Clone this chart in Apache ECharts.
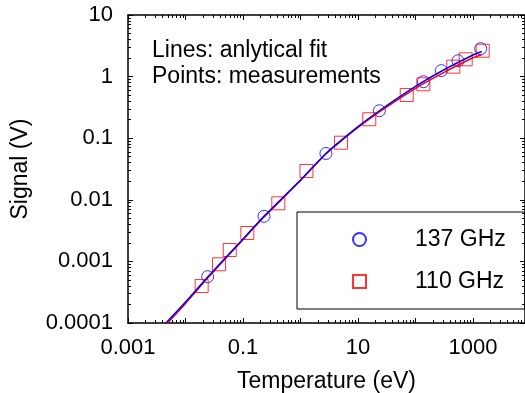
<!DOCTYPE html>
<html>
<head>
<meta charset="utf-8">
<script src="https://cdn.jsdelivr.net/npm/echarts@6/dist/echarts.min.js"></script>
<style>
  html, body { margin: 0; padding: 0; background: #fff; }
  #chart { width: 525px; height: 393px; }
</style>
</head>
<body>
<div id="chart"></div>
<script>
// analytical fit, sampled along the curves
const fitTemp = [0.00458, 0.0102, 0.0243, 0.1, 0.232, 1, 2.77, 10, 23.5, 100, 281, 1000, 1416]
const fit137 = [1e-4, 2.23e-4, 5.58e-4, 2.32e-3, 5.4e-3, 0.0209, 0.0565, 0.154, 0.279, 0.693, 1.22, 2.24, 2.55]
const fit110 = [0.94e-4, 2.12e-4, 5.36e-4, 2.25e-3, 5.24e-3, 0.0205, 0.0554, 0.149, 0.268, 0.645, 1.11, 2.02, 2.27]

// measurements
const meas137Temp = [0.0243, 0.232, 2.77, 23.5, 137, 281, 548, 1360]
const meas137 = [0.000565, 0.0054, 0.0565, 0.279, 0.826, 1.25, 1.81, 2.84]
const meas110Temp = [0.0191, 0.0383, 0.0588, 0.119, 0.411, 1.27, 5.06, 15.7, 70.3, 137, 454, 746, 1475]
const meas110 = [0.000399, 0.000897, 0.00153, 0.00289, 0.00877, 0.0294, 0.0845, 0.203, 0.503, 0.75, 1.45, 1.91, 2.63]

// axis ticks
const xTickValues = [0.001, 0.1, 10, 1000]
const xTickLabels = ['0.001', '0.1', '10', '1000']
const yTickValues = [0.0001, 0.001, 0.01, 0.1, 1, 10]
const yTickLabels = ['0.0001', '0.001', '0.01', '0.1', '1', '10']

const lg = Math.log10
const pairs = (xs, ys) => xs.map((x, i) => [lg(x), lg(ys[i])])

const X_MIN = -3, X_MAX = 3.904, Y_MIN = -4, Y_MAX = 1
const FONT = 'Liberation Sans, Arial, sans-serif'

// decade ticks and 2..9 minor ticks (log space)
const decades = (a, b) => { const r = []; for (let d = a; d <= b; d++) r.push(d); return r }
const minors = (a, b) => {
  const r = []
  for (let d = a; d <= b; d++) for (let k = 2; k <= 9; k++) r.push(d + lg(k))
  return r
}
const xMajor = decades(-3, 3), xMinor = minors(-3, 3).filter(v => v < X_MAX)
const yMajor = decades(-4, 1), yMinor = minors(-4, 0)

const labelOf = (vals, labels) => v => {
  const i = vals.findIndex(t => Math.abs(lg(t) - v) < 1e-6)
  return i < 0 ? '' : labels[i]
}

const tickAxis = (kind, pos, ticks, len, line) => ({
  type: 'value',
  position: pos,
  min: kind === 'x' ? X_MIN : Y_MIN,
  max: kind === 'x' ? X_MAX : Y_MAX,
  axisLine: { show: line, onZero: false, lineStyle: { color: '#000', width: 1.5 } },
  axisTick: { show: true, inside: true, length: len, customValues: ticks, lineStyle: { color: '#000', width: 1 } },
  axisLabel: { show: false },
  splitLine: { show: false }
})

const chart = echarts.init(document.getElementById('chart'))
chart.setOption({
  animation: false,
  grid: { left: 128, top: 15, width: 397, height: 308, outerBoundsMode: 'none' },
  xAxis: [
    {
      type: 'value',
      position: 'bottom',
      min: X_MIN,
      max: X_MAX,
      name: 'Temperature (eV)',
      nameLocation: 'middle',
      nameGap: 47,
      nameTextStyle: { fontFamily: FONT, fontSize: 23, color: '#000' },
      axisLine: { onZero: false, lineStyle: { color: '#000', width: 1.5 } },
      axisTick: { inside: true, length: 5, customValues: xMajor, lineStyle: { color: '#000' } },
      axisLabel: {
        customValues: xTickValues.map(lg),
        formatter: labelOf(xTickValues, xTickLabels),
        margin: 14,
        fontFamily: FONT,
        fontSize: 22,
        color: '#000'
      },
      splitLine: { show: false }
    },
    tickAxis('x', 'bottom', xMinor, 3, false),
    tickAxis('x', 'top', xMajor, 5, true),
    tickAxis('x', 'top', xMinor, 3, false)
  ],
  yAxis: [
    {
      type: 'value',
      position: 'left',
      min: Y_MIN,
      max: Y_MAX,
      name: 'Signal (V)',
      nameLocation: 'middle',
      nameGap: 96,
      nameTextStyle: { fontFamily: FONT, fontSize: 23, color: '#000' },
      axisLine: { onZero: false, lineStyle: { color: '#000', width: 1.5 } },
      axisTick: { inside: true, length: 5, customValues: yMajor, lineStyle: { color: '#000' } },
      axisLabel: {
        customValues: yTickValues.map(lg),
        formatter: labelOf(yTickValues, yTickLabels),
        margin: 15,
        fontFamily: FONT,
        fontSize: 22,
        color: '#000'
      },
      splitLine: { show: false }
    },
    tickAxis('y', 'left', yMinor, 3, false),
    tickAxis('y', 'right', yMajor, 5, true),
    tickAxis('y', 'right', yMinor, 3, false)
  ],
  legend: {
    orient: 'vertical',
    left: 297,
    top: 212,
    padding: [16, 19, 16, 55],
    borderColor: '#000',
    borderWidth: 1,
    itemWidth: 13,
    itemHeight: 13,
    itemGap: 19,
    data: ['137 GHz', '110 GHz'],
    textStyle: { fontFamily: FONT, fontSize: 23, color: '#000', padding: [0, 0, 0, 44] }
  },
  graphic: [
    { type: 'text', left: 152, top: 39, style: { text: 'Lines: anlytical fit', font: '23px ' + FONT, fill: '#000' } },
    { type: 'text', left: 152, top: 65, style: { text: 'Points: measurements', font: '23px ' + FONT, fill: '#000' } }
  ],
  series: [
    {
      name: '137 GHz',
      type: 'scatter',
      symbol: 'circle',
      symbolSize: 12,
      data: pairs(meas137Temp, meas137),
      itemStyle: { color: 'rgba(0,0,0,0)', borderColor: '#0000ff', borderWidth: 1 }
    },
    {
      name: '110 GHz',
      type: 'scatter',
      symbol: 'rect',
      symbolSize: 13,
      data: pairs(meas110Temp, meas110),
      itemStyle: { color: 'rgba(0,0,0,0)', borderColor: '#ff0000', borderWidth: 1 }
    },
    {
      name: 'fit 110',
      type: 'line',
      showSymbol: false,
      smooth: 0.2,
      clip: true,
      data: pairs(fitTemp, fit110),
      lineStyle: { color: '#ff0000', width: 1.5 }
    },
    {
      name: 'fit 137',
      type: 'line',
      showSymbol: false,
      smooth: 0.2,
      clip: true,
      data: pairs(fitTemp, fit137),
      lineStyle: { color: '#0000ff', width: 1.5 }
    }
  ]
})
</script>
</body>
</html>
